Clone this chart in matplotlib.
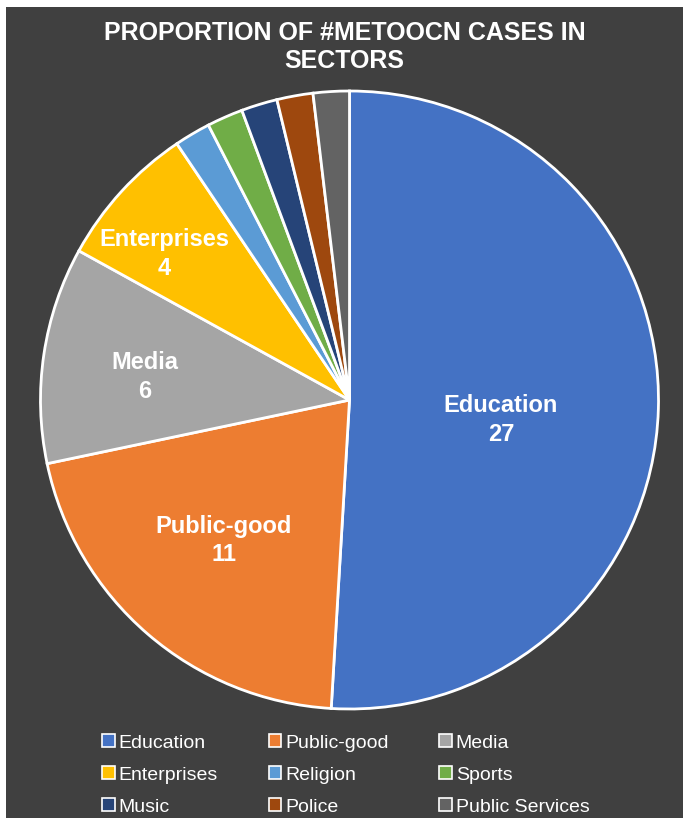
import numpy as np
import matplotlib.pyplot as plt
from matplotlib.patches import Rectangle

plt.rcParams["font.family"] = ["Liberation Sans", "DejaVu Sans"]

# ── data ─────────────────────────────────────────────────────────────────────
sectors = ["Education", "Public-good", "Media", "Enterprises", "Religion",
           "Sports", "Music", "Police", "Public Services"]
cases = [27, 11, 6, 4, 1, 1, 1, 1, 1]
colors = ["#4472C4", "#ED7D31", "#A5A5A5", "#FFC000", "#5B9BD5",
          "#70AD47", "#264478", "#9E480E", "#636363"]

# label placement (polar, in pie radii / degrees); None = no label
label_dist = [0.494, 0.610, 0.666, 0.763, None, None, None, None, None]
label_ang = [-7.5, -131.8, 173.6, 141.7, None, None, None, None, None]

BG = "#404040"

fig = plt.figure(figsize=(6.89, 8.25), dpi=100, facecolor="white")
fig.patches.append(Rectangle((6 / 689, 7 / 825), 677 / 689, 811 / 825,
                             transform=fig.transFigure, facecolor=BG,
                             edgecolor="none", zorder=-10))

R = 309
cx, cy = 349.5, 400
ax = fig.add_axes([(cx - R) / 689, (825 - cy - R) / 825, 2 * R / 689, 2 * R / 825])
ax.set_facecolor("none")

wedges, _ = ax.pie(cases, colors=colors, startangle=90, counterclock=False,
                   radius=1.0,
                   wedgeprops=dict(edgecolor="white", linewidth=2))
ax.set_xlim(-1, 1)
ax.set_ylim(-1, 1)
ax.set_aspect("equal")
ax.axis("off")

for name, val, d, a in zip(sectors, cases, label_dist, label_ang):
    if d is None:
        continue
    ang = np.deg2rad(a)
    ax.text(d * np.cos(ang), d * np.sin(ang), f"{name}\n{val}",
            ha="center", va="center", color="white", fontsize=17,
            fontweight="bold", linespacing=1.3)

fig.text(0.5, 1 - 47 / 825, "PROPORTION OF #METOOCN CASES IN\nSECTORS",
         ha="center", va="center", color="white", fontsize=18,
         fontweight="bold", linespacing=1.16)

# legend is filled row by row (matplotlib fills columns first)
order = [0, 3, 6, 1, 4, 7, 2, 5, 8]
leg = fig.legend([wedges[i] for i in order], [sectors[i] for i in order],
                 ncol=3, loc="center",
                 bbox_to_anchor=(0.502, 1 - 775 / 825), frameon=False,
                 fontsize=14, labelcolor="white", handlelength=0.65,
                 handleheight=0.65, handletextpad=0.2, columnspacing=2.6,
                 labelspacing=0.75)
for h in leg.legend_handles:
    h.set_edgecolor("white")
    h.set_linewidth(1.2)

fig.savefig("out.png", dpi=100, facecolor=fig.get_facecolor())
